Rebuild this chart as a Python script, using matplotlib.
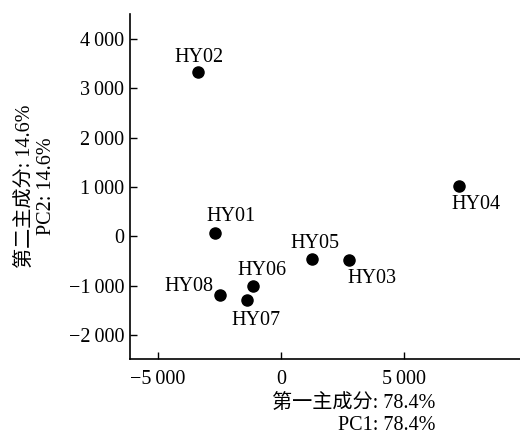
import matplotlib
matplotlib.use("Agg")
import matplotlib.pyplot as plt
import matplotlib.ticker as mticker

# PCA scores
names = ["HY01", "HY02", "HY03", "HY04", "HY05", "HY06", "HY07", "HY08"]
pc1 = [-2680, -3370, 2760, 7240, 1260, -1140, -1380, -2480]
pc2 = [60, 3330, -490, 1030, -470, -1010, -1300, -1200]

xticks = [-5000, 0, 5000]
yticks = [-2000, -1000, 0, 1000, 2000, 3000, 4000]

# label offsets in pixels (dx, dy, ha, va)
offsets = {
    "HY01": (16, 7, "center", "bottom"),
    "HY02": (1, 5, "center", "bottom"),
    "HY03": (23, -9, "center", "top"),
    "HY04": (17, -9, "center", "top"),
    "HY05": (3, 6, "center", "bottom"),
    "HY06": (9, 6, "center", "bottom"),
    "HY07": (9, -11, "center", "top"),
    "HY08": (-7, 9, "right", "center"),
}

fonts = ["Liberation Serif", "Noto Sans CJK SC", "DejaVu Sans"]
plt.rcParams["font.family"] = fonts
plt.rcParams["font.size"] = 14.5


def fmt(v, pos):
    s = f"{abs(int(v)):,}".replace(",", "\u2009")
    return ("\u2212" + s) if v < 0 else s


def main():
    fig = plt.figure(figsize=(5.2, 4.34), dpi=100)
    ax = fig.add_axes([130 / 520, 75 / 434, 390 / 520, 345 / 434])

    ax.scatter(pc1, pc2, s=64, color="black", zorder=3)
    for n, x, y in zip(names, pc1, pc2):
        dx, dy, ha, va = offsets[n]
        ax.annotate(n, (x, y), xytext=(dx, dy), textcoords="offset pixels",
                    ha=ha, va=va)

    ax.set_xlim(-6140, 9720)
    ax.set_ylim(-2490, 4510)
    ax.set_xticks(xticks)
    ax.set_yticks(yticks)
    ax.xaxis.set_major_formatter(mticker.FuncFormatter(fmt))
    ax.yaxis.set_major_formatter(mticker.FuncFormatter(fmt))
    ax.tick_params(direction="in", length=5, width=1)
    ax.tick_params(axis="x", pad=8)
    ax.tick_params(axis="y", pad=4)
    ax.spines["top"].set_visible(False)
    ax.spines["right"].set_visible(False)
    for sp in ("left", "bottom"):
        ax.spines[sp].set_linewidth(1.2)

    ax.set_ylabel("第二主成分: 14.6%\nPC2: 14.6%", labelpad=9, linespacing=1.1)
    ax.text(435 / 520, 1 - 395 / 434, "第一主成分: 78.4%\nPC1: 78.4%",
            transform=fig.transFigure, ha="right", va="top",
            multialignment="right", linespacing=1.15)

    plt.savefig("out.png", dpi=100)


if __name__ == "__main__":
    main()
